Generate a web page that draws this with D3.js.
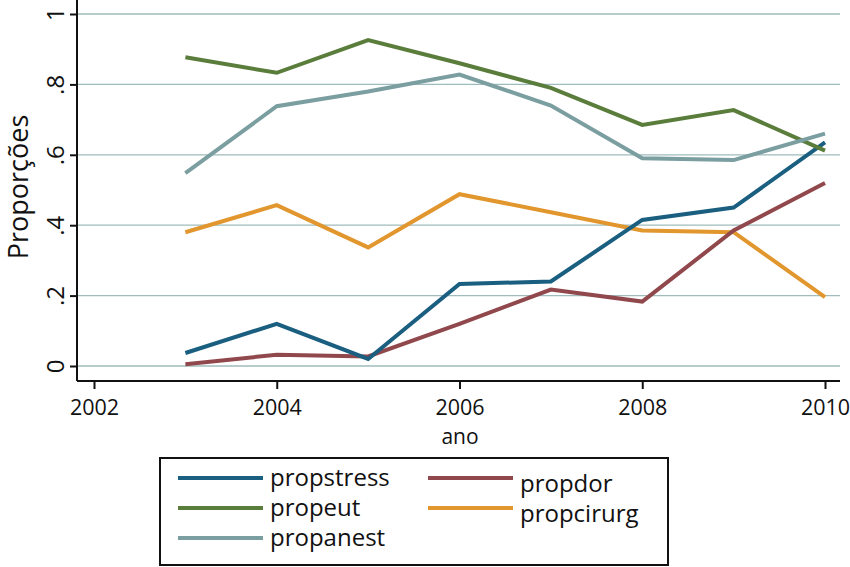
<!DOCTYPE html>
<html><head><meta charset="utf-8">
<script src="https://cdn.jsdelivr.net/npm/d3@7"></script>
<style>body{margin:0;background:#fff}svg{display:block}text{font-family:"Open Sans","Noto Sans",sans-serif;fill:#111}</style>
</head><body>
<svg id="c" width="850" height="567"></svg>
<script>
const years = [2003, 2004, 2005, 2006, 2007, 2008, 2009, 2010];
const propstress = [0.037, 0.12, 0.02, 0.233, 0.24, 0.415, 0.45, 0.635];
const propdor = [0.005, 0.032, 0.027, 0.12, 0.217, 0.183, 0.385, 0.52];
const propeut = [0.877, 0.833, 0.926, 0.86, 0.79, 0.685, 0.727, 0.612];
const propanest = [0.548, 0.738, 0.78, 0.828, 0.74, 0.59, 0.585, 0.66];
const propcirurg = [0.38, 0.457, 0.337, 0.488, 0.437, 0.385, 0.38, 0.196];
const xTicks = [2002, 2004, 2006, 2008, 2010];
const yTicks = [0, 0.2, 0.4, 0.6, 0.8, 1];
const yTickLabels = ["0", ".2", ".4", ".6", ".8", "1"];

const series = [
  {name: "propstress", values: propstress, color: "#1a5e80"},
  {name: "propdor", values: propdor, color: "#90484c"},
  {name: "propeut", values: propeut, color: "#5a7d3c"},
  {name: "propcirurg", values: propcirurg, color: "#e2962e"},
  {name: "propanest", values: propanest, color: "#7b9ea1"}
];

const svg = d3.select("#c");
const x = d3.scaleLinear().domain([2002, 2010]).range([94, 825]);
const y = d3.scaleLinear().domain([0, 1]).range([366, 14]);
const left = 77, right = 840, bottom = 381;
const FONT = "'Open Sans','Noto Sans',sans-serif";

// gridlines
svg.append("g").selectAll("line").data(yTicks).join("line")
  .attr("x1", left).attr("x2", right)
  .attr("y1", d => y(d)).attr("y2", d => y(d))
  .attr("stroke", "#9fbcbc").attr("stroke-width", 1.3);

// y axis
const yAxis = svg.append("g").attr("transform", `translate(${left},0)`)
  .call(d3.axisLeft(y).tickValues(yTicks).tickFormat((d, i) => yTickLabels[i]).tickSize(7).tickPadding(6));
yAxis.select(".domain").attr("d", `M0,0V${bottom}`).attr("stroke", "#111").attr("stroke-width", 2);
yAxis.selectAll(".tick line").attr("stroke", "#111").attr("stroke-width", 2);
yAxis.selectAll(".tick text")
  .attr("font-size", 24).attr("font-family", FONT).attr("fill", "#111")
  .attr("text-anchor", "middle").attr("x", 0).attr("y", 0).attr("dy", 0)
  .attr("transform", "translate(-13,0) rotate(-90)");

// x axis
const xAxis = svg.append("g").attr("transform", `translate(0,${bottom})`)
  .call(d3.axisBottom(x).tickValues(xTicks).tickFormat(d3.format("d")).tickSize(8).tickPadding(11));
xAxis.select(".domain").attr("d", `M${left},0H${right}`).attr("stroke", "#111").attr("stroke-width", 2);
xAxis.selectAll(".tick line").attr("stroke", "#111").attr("stroke-width", 2);
xAxis.selectAll(".tick text").attr("font-size", 21.5).attr("font-family", FONT).attr("fill", "#111");

// axis titles
svg.append("text").attr("x", 460).attr("y", 444).attr("text-anchor", "middle").attr("font-size", 21).text("ano");
svg.append("text").attr("transform", "translate(28,187) rotate(-90)").attr("text-anchor", "middle").attr("font-size", 27).text("Proporções");

// lines
const line = d3.line().x((d, i) => x(years[i])).y(d => y(d));
const order = ["propcirurg", "propdor", "propstress", "propeut", "propanest"];
svg.append("g").selectAll("path").data(order.map(n => series.find(s => s.name === n))).join("path")
  .attr("d", d => line(d.values)).attr("fill", "none")
  .attr("stroke", d => d.color).attr("stroke-width", 4).attr("stroke-linejoin", "miter");

// legend
svg.append("rect").attr("x", 160).attr("y", 458).attr("width", 508).attr("height", 107)
  .attr("fill", "#fff").attr("stroke", "#111").attr("stroke-width", 2);
const legItems = [
  {name: "propstress", col: 0, row: 0},
  {name: "propeut", col: 0, row: 1},
  {name: "propanest", col: 0, row: 2},
  {name: "propdor", col: 1, row: 0},
  {name: "propcirurg", col: 1, row: 1}
];
const lg = svg.append("g").selectAll("g").data(legItems).join("g")
  .attr("transform", d => `translate(${d.col ? 428 : 178},${d.row * 30 + 478})`);
lg.append("line").attr("x1", 0).attr("x2", 85).attr("y1", 0).attr("y2", 0)
  .attr("stroke", d => series.find(s => s.name === d.name).color).attr("stroke-width", 4);
lg.append("text").attr("x", 92).attr("y", d => d.col ? 14 : 8).attr("font-size", 24).text(d => d.name);
</script>
</body></html>
